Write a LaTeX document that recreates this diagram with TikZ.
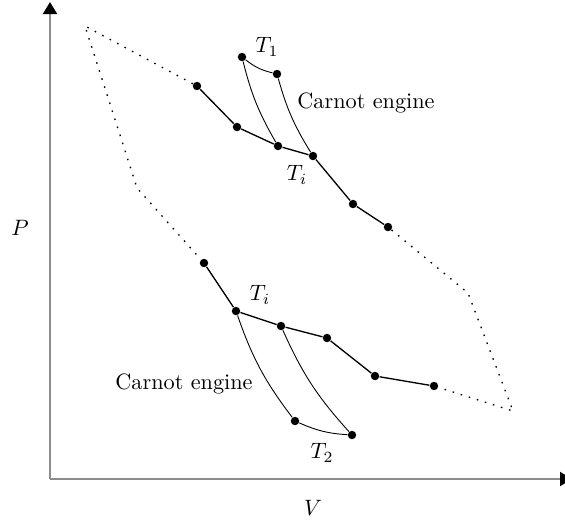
\documentclass[tikz,border=0pt]{standalone}
\usetikzlibrary{arrows.meta}
\begin{document}
\begin{tikzpicture}[x=0.45pt,y=-0.45pt,
  pt/.style={circle,fill,inner sep=0pt,minimum size=3.8pt},
  chain/.style={line width=0.6pt},
  cycle/.style={line width=0.4pt},
  axis/.style={black!45,line width=0.9pt,-{Triangle[length=5.4pt,width=6.3pt,color=black]}},
  outline/.style={line width=0.6pt,dash pattern=on 0.7pt off 3.1pt}]
  \useasboundingbox (0,0) rectangle (565,525);
  % Axes
  \coordinate (o) at (50,479);
  \coordinate (ptop) at (50,2);
  \coordinate (vend) at (572,479);
  \draw[axis] (o) -- (ptop);
  \draw[axis] (o) -- (vend);
  \node (plabel) at (20,228) {$P$};
  \node (vlabel) at (313,508) {$V$};
  % Upper chain of states
  \node[pt] (a1) at (197,86) {};
  \node[pt] (a2) at (237,127) {};
  \node[pt] (a3) at (278,146) {};
  \node[pt] (a4) at (313,156) {};
  \node[pt] (a5) at (353,204) {};
  \node[pt] (a6) at (388,227) {};
  \draw[chain] (a1) -- (a2) -- (a3) -- (a4) -- (a5) -- (a6);
  % Upper Carnot cycle
  \node[pt] (c1) at (242,57) {};
  \node[pt] (c2) at (277,74) {};
  \draw[cycle] (c1) to[bend right=12] (c2);
  \draw[cycle] (c1) to[bend right=8] (a3);
  \draw[cycle] (c2) to[bend right=8] (a4);
  \node (t1) at (267,47) {$T_1$};
  \node (eng1) at (366,103) {Carnot engine};
  \node (ti1) at (297,175) {$T_i$};
  % Lower chain of states
  \node[pt] (b1) at (204,263) {};
  \node[pt] (b2) at (236,311) {};
  \node[pt] (b3) at (281,326) {};
  \node[pt] (b4) at (327,338) {};
  \node[pt] (b5) at (375,376) {};
  \node[pt] (b6) at (434,386) {};
  \draw[chain] (b1) -- (b2) -- (b3) -- (b4) -- (b5) -- (b6);
  % Lower Carnot cycle
  \node[pt] (d1) at (295,421) {};
  \node[pt] (d2) at (352,435) {};
  \draw[cycle] (d1) to[bend right=10] (d2);
  \draw[cycle] (b2) to[bend right=9] (d1);
  \draw[cycle] (b3) to[bend right=9] (d2);
  \node (ti2) at (260,295) {$T_i$};
  \node (t2) at (322,453) {$T_2$};
  \node (eng2) at (184,384) {Carnot engine};
  % Dotted outline
  \coordinate (ul) at (85,26);
  \coordinate (ml) at (137,188);
  \coordinate (mr) at (468,293);
  \coordinate (lr) at (513,411);
  \draw[outline] (a1) -- (ul) -- (ml) -- (b1);
  \draw[outline] (a6) -- (mr) -- (lr) -- (b6);
\end{tikzpicture}
\end{document}
